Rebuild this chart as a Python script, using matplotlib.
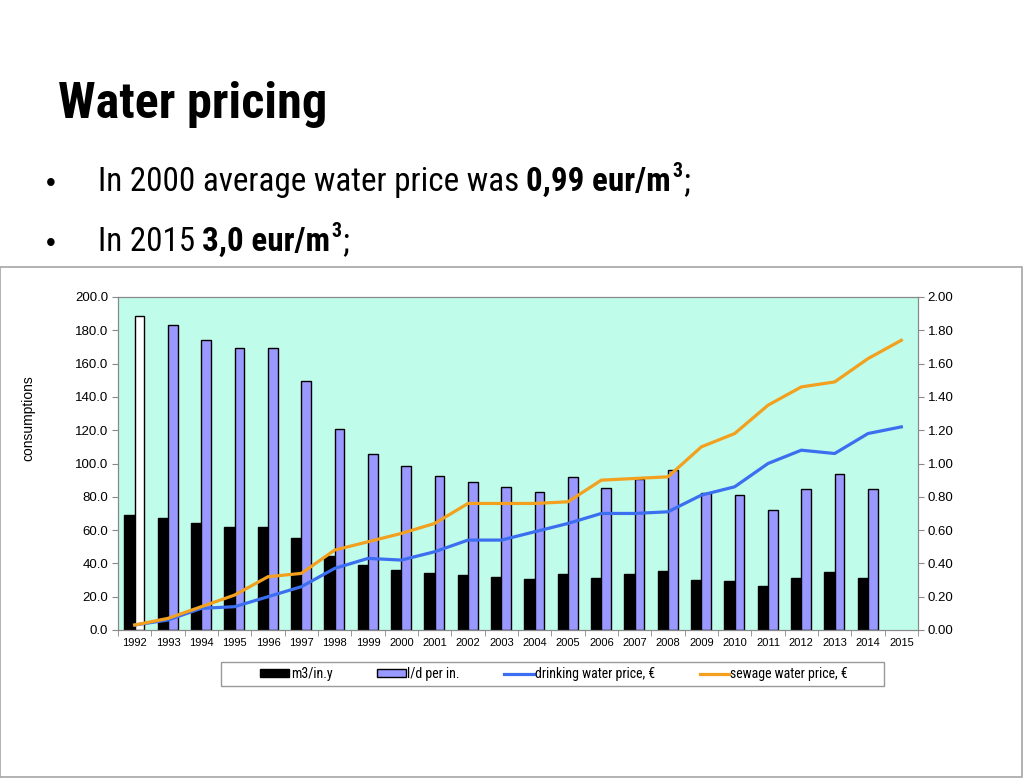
import numpy as np
import matplotlib.pyplot as plt
from matplotlib import font_manager as fm
from matplotlib.patches import Rectangle, Patch
from matplotlib.lines import Line2D
from matplotlib.transforms import IdentityTransform

years = [str(y) for y in range(1992, 2016)]
m3_per_inh = [69.0, 67.5, 64.0, 62.0, 62.0, 55.0, 44.5, 39.0, 36.0, 34.0, 33.0, 31.7,
              30.5, 33.9, 31.5, 33.5, 35.3, 30.3, 29.7, 26.7, 31.3, 34.7, 31.3]
ld_per_inh = [188.4, 183.4, 173.9, 169.1, 169.5, 149.3, 121.0, 105.8, 98.2, 92.6, 88.8, 86.0,
              82.8, 91.8, 85.2, 90.5, 95.8, 82.3, 80.8, 72.0, 84.8, 93.8, 84.8]
drinking_price = [0.03, 0.06, 0.13, 0.14, 0.20, 0.26, 0.37, 0.43, 0.42, 0.47, 0.54, 0.54,
                  0.59, 0.64, 0.70, 0.70, 0.71, 0.81, 0.86, 1.00, 1.08, 1.06, 1.18, 1.22]
sewage_price = [0.03, 0.07, 0.14, 0.21, 0.32, 0.34, 0.48, 0.53, 0.58, 0.64, 0.76, 0.76,
                0.76, 0.77, 0.90, 0.91, 0.92, 1.10, 1.18, 1.35, 1.46, 1.49, 1.63, 1.74]

W, H = 1024, 778
fig = plt.figure(figsize=(W / 100, H / 100), dpi=100)
fig.patch.set_facecolor('white')

# look for a condensed face, the slide uses Roboto Condensed
avail = {f.name for f in fm.fontManager.ttflist}
cond = None
for name in ['Roboto Condensed', 'Liberation Sans Narrow', 'DejaVu Sans Condensed',
             'Noto Sans Condensed', 'Open Sans Condensed']:
    if name in avail:
        cond = name
        break
if cond is None:
    stretched = [f.name for f in fm.fontManager.ttflist
                 if f.stretch in ('condensed', 'semi-condensed', 'extra-condensed')]
    if stretched:
        cond = stretched[0]
if cond is not None:
    narrow = [cond, 'Roboto']
    shrink = 1.0
else:
    narrow = ['Roboto', 'DejaVu Sans']
    shrink = 0.85
arial = ['Liberation Sans', 'DejaVu Sans']


def fx(px):
    return px / W


def fy(py):
    return 1 - py / H


# slide header
fig.text(fx(58), fy(118), 'Water pricing', family=narrow, fontweight='bold',
         fontstretch='condensed', fontsize=36.2 * shrink, va='baseline', ha='left')

renderer = fig.canvas.get_renderer()


def rich_line(y, parts, size=23.9 * shrink):
    x = 98
    px_y = H - y
    fig.text(46, px_y, '\u2022', transform=IdentityTransform(), fontsize=20,
             family=arial, va='baseline')
    for s, bold, sup, gap in parts:
        fs = size * 0.6 if sup else size
        yy = px_y + (size * 0.58 if sup else 0)
        t = fig.text(x, yy, s, transform=IdentityTransform(), fontsize=fs, family=narrow,
                     fontstretch='condensed',
                     fontweight='bold' if bold else 'normal', va='baseline', ha='left')
        bb = t.get_window_extent(renderer)
        x = bb.x1 + gap


rich_line(191, [('In 2000 average water price was', False, False, 7),
                ('0,99 eur/m', True, False, 1),
                ('3', True, True, 1),
                (';', False, False, 0)])
rich_line(251, [('In 2015', False, False, 7),
                ('3,0 eur/m', True, False, 1),
                ('3', True, True, 1),
                (';', False, False, 0)])

# chart frame
fig.patches.append(Rectangle((fx(0), fy(777)), fx(1022), (777 - 267) / H,
                             transform=fig.transFigure, facecolor='white',
                             edgecolor='#a6a6a6', linewidth=1.2, zorder=-2))

ax = fig.add_axes([fx(118), fy(630), 800 / W, 333 / H])
ax.set_facecolor('#bffcea')
x = np.arange(len(years))
n = len(m3_per_inh)
ax.bar(x[:n] - 0.31, m3_per_inh, width=0.31, align='edge', color='black',
       edgecolor='black', linewidth=1)
ld_colors = ['white'] + ['#9999ff'] * (n - 1)
ax.bar(x[:n], ld_per_inh, width=0.29, align='edge', color=ld_colors,
       edgecolor='black', linewidth=1)
ax.set_xlim(-0.5, len(years) - 0.5)
ax.set_ylim(0, 200)
ax.set_yticks(np.arange(0, 201, 20))
ax.set_yticklabels(['%.1f' % v for v in np.arange(0, 201, 20)], family=arial, fontsize=9.5)
ax.set_xticks(x)
ax.set_xticklabels(years, family=arial, fontsize=8)
ax.set_xticks(np.arange(-0.5, len(years), 1), minor=True)
ax.tick_params(axis='x', which='major', length=0, pad=6)
ax.tick_params(axis='x', which='minor', length=4, color='#888888')
ax.tick_params(axis='y', length=4, color='#888888', pad=3)
for s in ax.spines.values():
    s.set_color('#888888')

ax2 = ax.twinx()
ax2.plot(x, drinking_price, color='#3c6ef0', linewidth=2.3, solid_joinstyle='round')
ax2.plot(x, sewage_price, color='#f2a01e', linewidth=2.3, solid_joinstyle='round')
ax2.set_ylim(0, 2)
ax2.set_yticks(np.arange(0, 2.01, 0.2))
ax2.set_yticklabels(['%.2f' % v for v in np.arange(0, 2.01, 0.2)], family=arial, fontsize=9.5)
ax2.tick_params(axis='y', length=4, color='#888888', pad=3)
for s in ax2.spines.values():
    s.set_color('#888888')

fig.text(fx(28), fy(418), 'consumptions', rotation=90, family=arial, fontsize=10,
         ha='center', va='center')

# legend: frame drawn separately, items centred inside
fig.patches.append(Rectangle((fx(221), fy(686)), 663 / W, 24 / H,
                             transform=fig.transFigure, facecolor='white',
                             edgecolor='#999999', linewidth=1, zorder=-1))
handles = [Patch(facecolor='black', edgecolor='black'),
           Patch(facecolor='#9999ff', edgecolor='black'),
           Line2D([], [], color='#3c6ef0', linewidth=2.3),
           Line2D([], [], color='#f2a01e', linewidth=2.3)]
labels = ['m3/in.y', 'l/d per in.', 'drinking water price, \u20ac', 'sewage water price, \u20ac']
leg_size = 10 if cond is not None else 8
fig.legend(handles, labels, loc='center', ncol=4,
           bbox_to_anchor=(fx(554), fy(674)),
           prop={'family': narrow if cond is not None else arial, 'size': leg_size,
                 'stretch': 'condensed'},
           frameon=False, handlelength=2.1, handleheight=0.5, handletextpad=0.1,
           columnspacing=3.2, borderaxespad=0)

fig.savefig('out.png', dpi=100)
